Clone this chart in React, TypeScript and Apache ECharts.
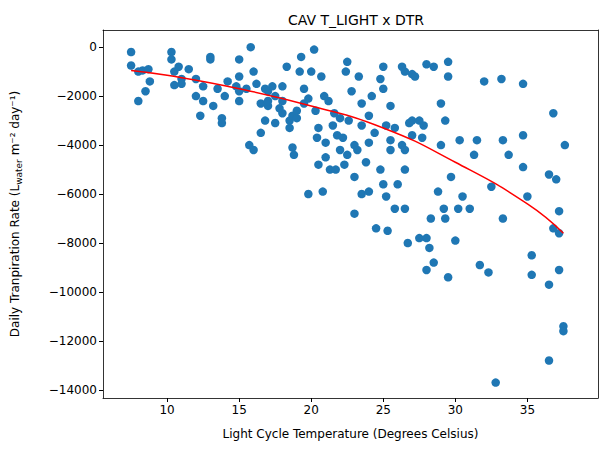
import React, { useEffect, useRef } from "react";
import * as echarts from "echarts";

const xs = [7.5,7.5,8,8,8.3,8.5,8.7,8.8,10.3,10.3,10.5,10.5,10.8,11,11,11.5,12,12,12.3,12.5,12.5,13,13,13.5,13.8,13.8,14,14.8,15,15,15,15,15.5,15.7,15.8,16,16,16.2,16.5,16.5,16.8,17,17,17,17.3,17.5,17.5,18,18,18,18.3,18.5,18.5,18.7,18.7,18.8,19,19.2,19.3,19.5,19.5,19.8,20,20.2,20.3,20.4,20.5,20.5,20.7,20.8,20.9,21,21,21.2,21.3,21.5,21.7,21.8,22,22,22.2,22.3,22.4,22.5,22.5,22.8,23,23,23,23.3,23.5,23.5,23.5,23.8,24,24,24,24.2,24.5,24.8,24.8,25,25,25,25.2,25.2,25.3,25.5,25.5,25.5,25.8,25.8,26,26.3,26.3,26.5,26.5,26.5,26.5,26.7,27,27,27,27.2,27.5,27.5,27.7,27.8,28,28,28,28.2,28.3,28.5,28.5,28.8,29,29,29.2,29.3,29.3,29.5,29.5,29.5,29.7,30,30.3,30.5,30.2,31,31.3,31.5,31.7,32,32.3,32.5,32.8,33.2,33.3,33.3,33.7,34.7,34.7,34.7,35,35.3,35.3,36.5,36.5,36.5,36.8,37,37.2,37.2,37.2,37.5,37.5,37.6,36.8,13.2,14.2,16.8,17.8,19.8,21.6,22.6,24.4,26.8,19.0,23.2];
const ys = [-200,-750,-1000,-2200,-950,-1800,-900,-1400,-200,-500,-1000,-1550,-800,-1300,-1500,-900,-1300,-2000,-2800,-1600,-2200,-400,-500,-1700,-2900,-3100,-2000,-1600,-500,-1200,-2200,-1800,-1700,-4000,0,-1000,-4200,-1500,-3500,-2300,-3000,-2400,-2200,-1800,-1600,-2000,-3100,-1600,-2700,-2200,-800,-3300,-3000,-2800,-4100,-4400,-2900,-1000,-400,-1700,-2300,-6000,-1000,-100,-2600,-3700,-3300,-4800,-1200,-5900,-2000,-3900,-4500,-2200,-5000,-3200,-5000,-3600,-2900,-4200,-3700,-4800,-1000,-600,-4400,-1800,-4000,-5300,-6800,-1200,-2300,-3200,-6000,-4700,-2800,-3900,-5900,-2000,-7400,-5000,-1300,-800,-1700,-5600,-3200,-6100,-7500,-2400,-3800,-4200,-6600,-3300,-5600,-800,-4000,-5000,-1000,-4200,-6600,-8000,-1100,-3000,-3600,-1200,-3000,-7800,-3700,-3200,-700,-7800,-9100,-8200,-7000,-8800,-800,-5900,-2300,-4000,-6600,-7000,-3000,-9400,-600,-1200,-5300,-7900,-3800,-6100,-6600,-6600,-4400,-3800,-8900,-1400,-9200,-5700,-13700,-1300,-3800,-7000,-4400,-1500,-3600,-4900,-6100,-8500,-9300,-5200,-9700,-12800,-2700,-5400,-6700,-9100,-7600,-11400,-11600,-4000,-7400,-2400,-1400,-1700,-2500,-2100,-2700,-3000,-3500,-3100,-2600,-4200];
const fitX = [7.5,10,15,20,25,30,35,37.5];
const fitY = [-950,-1150,-1700,-2400,-3300,-4700,-6400,-7600];
const xTicks = [10,15,20,25,30,35];
const yTicks = [0,-2000,-4000,-6000,-8000,-10000,-12000,-14000];

export default function App() {
  const ref = useRef<HTMLDivElement>(null);
  useEffect(() => {
    const chart = echarts.init(ref.current!, undefined, { renderer: "svg" });
    const line = { show: true, onZero: false, lineStyle: { color: "#000", width: 0.8 } };
    const fmt = (v: number) => String(v).replace("-", "\u2212");
    chart.setOption({
      animation: false,
      textStyle: { fontFamily: "DejaVu Sans" },
      title: { text: "CAV T_LIGHT x DTR", left: 351, top: 8, textAlign: "center",
        textStyle: { fontSize: 14, fontWeight: "normal", color: "#000" } },
      grid: { left: 103, right: 10, top: 30, bottom: 55 },
      xAxis: [{ type: "value", min: 5.55, max: 39.9, splitLine: { show: false },
        axisLine: line, axisTick: { show: true, length: 4, lineStyle: { color: "#000" }, customValues: xTicks },
        axisLabel: { customValues: xTicks, color: "#000", fontSize: 12, margin: 6 },
        name: "Light Cycle Temperature (Degrees Celsius)", nameLocation: "middle", nameGap: 30,
        nameTextStyle: { fontSize: 12, color: "#000" } },
        { type: "value", position: "top", min: 5.55, max: 39.9, splitLine: { show: false }, axisLine: line,
          axisTick: { show: false }, axisLabel: { show: false } }],
      yAxis: [{ type: "value", min: -14330, max: 700, splitLine: { show: false },
        axisLine: line, axisTick: { show: true, length: 4, lineStyle: { color: "#000" }, customValues: yTicks },
        axisLabel: { customValues: yTicks, color: "#000", fontSize: 12, margin: 6, formatter: fmt },
        name: "Daily Tranpiration Rate (L{s|water} m\u207B\u00B2 day\u207B\u00B9)", nameLocation: "middle", nameGap: 80,
        nameTextStyle: { fontSize: 12, color: "#000", rich: { s: { fontSize: 9, padding: [7, 0, 0, 0] } } } },
        { type: "value", position: "right", min: -14330, max: 700, splitLine: { show: false }, axisLine: line,
          axisTick: { show: false }, axisLabel: { show: false } }],
      series: [
        { type: "scatter", data: xs.map((x, i) => [x, ys[i]]), symbolSize: 8.5, itemStyle: { color: "#1f77b4", opacity: 1 } },
        { type: "line", data: fitX.map((x, i) => [x, fitY[i]]), smooth: true, showSymbol: false, lineStyle: { color: "#ff0000", width: 1.5 } },
      ],
    });
    return () => chart.dispose();
  }, []);
  return <div ref={ref} style={{ position: "absolute", left: 0, top: 0, width: 608, height: 453 }} />;
}
